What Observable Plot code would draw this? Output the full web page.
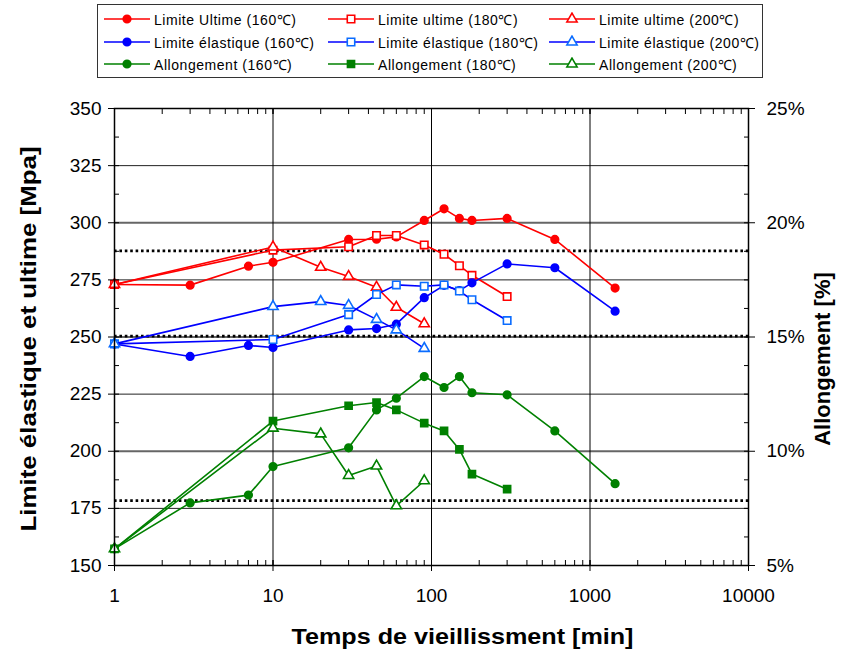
<!DOCTYPE html>
<html><head><meta charset="utf-8">
<script src="https://cdn.jsdelivr.net/npm/d3@7"></script>
<script src="https://cdn.jsdelivr.net/npm/@observablehq/plot@0.6"></script>
<style>
body{margin:0;background:#fff;}
#wrap{position:relative;width:848px;height:654px;font-family:"Liberation Sans",Arial,sans-serif;}
#legend{position:absolute;left:97px;top:4px;width:666px;height:74px;border:1px solid #333;box-sizing:border-box;background:#fff;}
.item{position:absolute;display:flex;align-items:center;font-size:14px;letter-spacing:0.55px;white-space:nowrap;color:#000;}
.item svg{margin-right:4px;}
</style></head><body><div id="wrap"><div id="chart"></div><div id="legend"></div></div>
<script>
// ---- data ----
const tUlt160 = [1,3,7,10,30,45,60,90,120,150,180,300,600,1440];
const ult160  = [273,272.7,281,282.7,292.7,292.8,293.8,301,306.1,301.9,301,301.9,292.7,271.4];
const tUlt180 = [1,10,30,45,60,90,120,150,180,300];
const ult180  = [273,288,289.5,294.4,294.4,290.3,286.2,281.2,277,267.7];
const tUlt200 = [1,10,20,30,45,60,90];
const ult200  = [273,289.4,280.5,276.5,271.8,263,255.8];

const tEl160 = [1,3,7,10,30,45,60,90,120,150,180,300,600,1440];
const el160  = [246.9,241.5,246.3,245.4,253.1,253.7,255.6,267.2,272.6,270.3,273.7,282,280.3,261.3];
const tEl180 = [1,10,30,45,60,90,120,150,180,300];
const el180  = [247,248.9,259.8,268.6,272.8,272.2,272.8,270.1,266.3,257.2];
const tEl200 = [1,10,20,30,45,60,90];
const el200  = [247,263.3,265.5,263.8,257.7,253.1,245];

// elongation in percent (right axis)
const tAl160 = [1,3,7,10,30,45,60,90,120,150,180,300,600,1440];
const al160  = [5.73,7.74,8.08,9.33,10.15,11.81,12.32,13.27,12.79,13.27,12.56,12.47,10.89,8.58];
const tAl180 = [1,10,30,45,60,90,120,150,180,300];
const al180  = [5.73,11.32,11.99,12.13,11.81,11.23,10.89,10.08,9.0,8.34];
const tAl200 = [1,10,20,30,45,60,90];
const al200  = [5.73,11.01,10.76,8.94,9.35,7.61,8.71];

// reference (dotted) levels
const refMpa = [287.7, 250.4];
const refPct = [7.84];

const yTicks = [150,175,200,225,250,275,300,325,350];
const pctTicks = [5,10,15,20,25];
const xTicks = [1,10,100,1000,10000];

const xLabel = "Temps de vieillissment [min]";
const yLabel = "Limite élastique et ultime [Mpa]";
const y2Label = "Allongement [%]";

// ---- build ----
const pctToMpa = p => 150 + (p - 5) * 10;
const mpaToPct = v => 5 + (v - 150) / 10;

const RED = "#FF0000", BLUE = "#0000FF", LBLUE = "#0A6CFF", GREEN = "#008000";
const series = [
  {name:"Limite Ultime (160℃)", t:tUlt160, v:ult160, line:RED, mk:RED, fill:RED, sym:"circle", r:3.8},
  {name:"Limite ultime (180℃)", t:tUlt180, v:ult180, line:RED, mk:RED, fill:"white", sym:"square", r:4.2},
  {name:"Limite ultime (200℃)", t:tUlt200, v:ult200, line:RED, mk:RED, fill:"white", sym:"triangle", r:3.8},
  {name:"Limite élastique (160℃)", t:tEl160, v:el160, line:BLUE, mk:BLUE, fill:BLUE, sym:"circle", r:3.8},
  {name:"Limite élastique (180℃)", t:tEl180, v:el180, line:BLUE, mk:LBLUE, fill:"white", sym:"square", r:4.2},
  {name:"Limite élastique (200℃)", t:tEl200, v:el200, line:BLUE, mk:LBLUE, fill:"white", sym:"triangle", r:3.8},
  {name:"Allongement (160℃)", t:tAl160, v:al160.map(pctToMpa), line:GREEN, mk:GREEN, fill:GREEN, sym:"circle", r:3.8},
  {name:"Allongement (180℃)", t:tAl180, v:al180.map(pctToMpa), line:GREEN, mk:GREEN, fill:GREEN, sym:"square", r:4.0},
  {name:"Allongement (200℃)", t:tAl200, v:al200.map(pctToMpa), line:GREEN, mk:GREEN, fill:"white", sym:"triangle", r:3.8}
];

const minorX = [];
for (const d of [1,10,100,1000]) for (let k=1;k<=10;k++) minorX.push(d*k);
const minorY = d3.range(150, 350.1, 12.5);

const seriesMarks = [];
for (const s of series) {
  const rows = s.t.map((t,i)=>({t, v:s.v[i]}));
  seriesMarks.push(Plot.line(rows, {x:"t", y:"v", stroke:s.line, strokeWidth:1.6}));
  seriesMarks.push(Plot.dot(rows, {x:"t", y:"v", symbol:s.sym, r:s.r, fill:s.fill, stroke:s.mk, strokeWidth:1.6}));
}

const chart = Plot.plot({
  width: 848, height: 654,
  marginLeft: 114, marginRight: 100, marginTop: 108, marginBottom: 89,
  x: {type:"log", domain:[1,10000]},
  y: {domain:[150,350]},
  style: {fontFamily:"'Liberation Sans', Arial, sans-serif", fontSize:"19px", color:"#000", background:"#fff", overflow:"visible"},
  marks: [
    Plot.ruleY([175,225,275,325], {stroke:"#222", strokeWidth:1}),
    Plot.ruleY([200,250,300], {stroke:"#666", strokeWidth:2}),
    Plot.ruleX([10,100,1000], {stroke:"#000", strokeWidth:1}),
    Plot.ruleY([...refMpa, ...refPct.map(pctToMpa)], {stroke:"#000", strokeWidth:2.6, strokeDasharray:"2.6,2.8"}),
    ...seriesMarks,
    Plot.frame({stroke:"#000", strokeWidth:1.5}),
    // major axes
    Plot.axisY({anchor:"left", ticks:yTicks, tickSize:6, tickPadding:7, tickFormat:d=>String(d), label:null, fontSize:19}),
    Plot.axisY({anchor:"right", ticks:pctTicks.map(pctToMpa), tickSize:6, tickPadding:12, tickFormat:v=>mpaToPct(v)+"%", label:null, fontSize:19}),
    Plot.axisX({anchor:"bottom", ticks:xTicks, tickSize:6, tickPadding:17, tickFormat:d=>String(d), label:null, fontSize:19}),
    // inner minor ticks
    Plot.axisY({anchor:"left", ticks:minorY, tickSize:5, dx:5, text:null, label:null}),
    Plot.axisY({anchor:"right", ticks:minorY, tickSize:5, dx:-5, text:null, label:null}),
    Plot.axisX({anchor:"bottom", ticks:minorX, tickSize:5, dy:-5, text:null, label:null}),
    Plot.axisX({anchor:"top", ticks:minorX, tickSize:5, dy:5, text:null, label:null}),
    // titles
    Plot.text([xLabel], {frameAnchor:"bottom", dx:31, dy:71, text:d=>d, textAnchor:"middle", lineAnchor:"middle", fontWeight:"bold", fontSize:22, fill:"#000", className:"ttl-x"}),
    Plot.text([yLabel], {frameAnchor:"left", dx:-86, dy:2, rotate:-90, text:d=>d, textAnchor:"middle", lineAnchor:"middle", fontWeight:"bold", fontSize:22, fill:"#000", className:"ttl-y"}),
    Plot.text([y2Label], {frameAnchor:"right", dx:74, dy:22, rotate:-90, text:d=>d, textAnchor:"middle", lineAnchor:"middle", fontWeight:"bold", fontSize:22, fill:"#000", className:"ttl-y2"})
  ]
});
document.getElementById("chart").appendChild(chart);
// stretch titles to the reference lengths
d3.select(chart).selectAll(".ttl-x text").attr("textLength", 342).attr("lengthAdjust", "spacingAndGlyphs");
d3.select(chart).selectAll(".ttl-y text").attr("textLength", 385).attr("lengthAdjust", "spacingAndGlyphs");

// ---- legend ----
const leg = document.getElementById("legend");
const colX = [6, 230, 451];
const rowY = [14, 37, 59];
const sym = {circle:d3.symbolCircle, square:d3.symbolSquare, triangle:d3.symbolTriangle};
series.forEach((s,i)=>{
  const col = i % 3, row = Math.floor(i/3);
  const div = document.createElement("div");
  div.className = "item";
  div.style.left = colX[col] + "px";
  div.style.top = (rowY[row] - 9) + "px";
  div.style.height = "18px";
  const path = d3.symbol(sym[s.sym], Math.PI * s.r * s.r)();
  div.innerHTML = `<svg width="46" height="14"><line x1="0" x2="46" y1="7" y2="7" stroke="${s.line}" stroke-width="1.6"/><path d="${path}" transform="translate(23,7)" fill="${s.fill}" stroke="${s.mk}" stroke-width="1.6"/></svg><span>${s.name}</span>`;
  leg.appendChild(div);
});
</script>
</body></html>
